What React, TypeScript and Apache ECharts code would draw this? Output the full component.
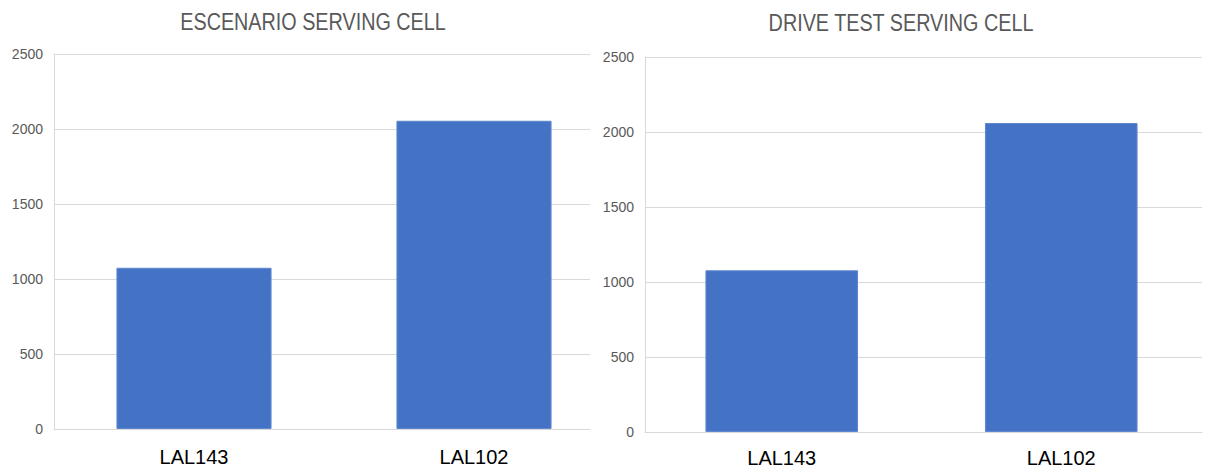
import React, { useEffect, useRef } from "react";
import * as echarts from "echarts";

const categories = ["LAL143", "LAL102"];
const escenarioValues = [1075, 2055];
const driveTestValues = [1078, 2060];
const leftTitle = "ESCENARIO SERVING CELL";
const rightTitle = "DRIVE TEST SERVING CELL";
const yMin = 0;
const yMax = 2500;
const yInterval = 500;

const GRID_COLOR = "#d9d9d9";
const LABEL_COLOR = "#595959";
const BAR_COLOR = "#4472C4";
const LABEL_FONT = "'Liberation Sans', Arial, sans-serif";

export default function App() {
  const ref = useRef<HTMLDivElement>(null);

  useEffect(() => {
    if (!ref.current) return;
    const chart = echarts.init(ref.current, undefined, { renderer: "svg" });

    const frameY = (gridIndex: number) => ({
      type: "value" as const,
      gridIndex,
      min: yMin,
      max: yMax,
      interval: yInterval,
      axisLine: { show: true, lineStyle: { color: GRID_COLOR, width: 1 } },
      axisTick: { show: false },
      splitLine: { show: true, lineStyle: { color: GRID_COLOR, width: 1 } },
      axisLabel: {
        color: LABEL_COLOR,
        fontSize: 14,
        fontFamily: LABEL_FONT,
        margin: 11,
        formatter: (v: number) => String(v),
      },
    });
    const hiddenY = (gridIndex: number) => ({
      type: "value" as const,
      gridIndex,
      min: yMin,
      max: yMax,
      interval: yInterval,
      show: false,
    });
    const frameX = (gridIndex: number) => ({
      type: "category" as const,
      gridIndex,
      data: categories,
      axisLine: { show: true, lineStyle: { color: GRID_COLOR, width: 1 } },
      axisTick: { show: false },
      axisLabel: { show: false },
    });
    const labelX = (gridIndex: number, margin: number) => ({
      type: "category" as const,
      gridIndex,
      data: categories,
      axisLine: { show: false },
      axisTick: { show: false },
      axisLabel: {
        color: "#000000",
        fontSize: 20,
        fontFamily: LABEL_FONT,
        margin,
      },
    });

    const titleText = (text: string, x: number, y: number) => ({
      type: "text",
      x,
      y,
      scaleX: 0.86,
      style: {
        text,
        textAlign: "center",
        textVerticalAlign: "middle",
        fontSize: 23,
        fontFamily: LABEL_FONT,
        fill: LABEL_COLOR,
      },
    });

    chart.setOption({
      animation: false,
      backgroundColor: "#ffffff",
      grid: [
        { left: 54, top: 54, width: 536, height: 375 },
        { left: 54, top: 54, width: 560, height: 375 },
        { left: 645, top: 57, width: 557, height: 375 },
        { left: 642, top: 57, width: 559, height: 375 },
      ],
      xAxis: [frameX(0), labelX(1, 18), frameX(2), labelX(3, 16)],
      yAxis: [frameY(0), hiddenY(1), frameY(2), hiddenY(3)],
      series: [
        {
          type: "bar",
          xAxisIndex: 1,
          yAxisIndex: 1,
          data: escenarioValues,
          barWidth: "55.4%",
          itemStyle: { color: BAR_COLOR, borderColor: "#5f88d0", borderWidth: 1 },
        },
        {
          type: "bar",
          xAxisIndex: 3,
          yAxisIndex: 3,
          data: driveTestValues,
          barWidth: "54.6%",
          itemStyle: { color: BAR_COLOR, borderColor: "#5f88d0", borderWidth: 1 },
        },
      ],
      graphic: [titleText(leftTitle, 313, 22), titleText(rightTitle, 901, 23)],
    });

    return () => chart.dispose();
  }, []);

  return (
    <div
      ref={ref}
      style={{ position: "fixed", left: 0, top: 0, width: 1207, height: 471, background: "#fff" }}
    />
  );
}
